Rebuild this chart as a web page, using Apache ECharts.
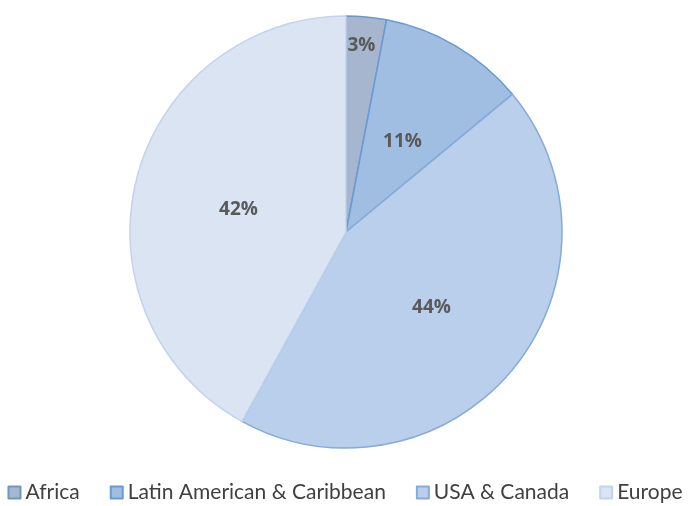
<!DOCTYPE html>
<html>
<head>
<meta charset="utf-8">
<script src="https://cdn.jsdelivr.net/npm/echarts@6/dist/echarts.min.js"></script>
<style>
  html, body { margin: 0; padding: 0; background: #fff; }
  #chart { width: 690px; height: 506px; }
</style>
</head>
<body>
<div id="chart"></div>
<script>
// Share of total by region
const regions = ['Africa', 'Latin American & Caribbean', 'USA & Canada', 'Europe'];
const shares = [3, 11, 44, 42];

const fills = ['#a6b6cf', '#a0bde2', '#b9cfeb', '#dae4f3'];
const edges = ['#6f97c6', '#6a9ad2', '#86abd9', '#c3d3ea'];

const chart = echarts.init(document.getElementById('chart'), null, { renderer: 'canvas' });

chart.setOption({
  animation: false,
  legend: {
    bottom: -2,
    left: 'center',
    itemWidth: 12,
    itemHeight: 12,
    itemGap: 30,
    icon: 'rect',
    textStyle: { fontFamily: 'Lato', fontSize: 21, color: '#404040' },
    data: regions
  },
  series: [{
    type: 'pie',
    center: [346, 232],
    radius: 216,
    startAngle: 90,
    clockwise: true,
    label: {
      show: true,
      position: 'inside',
      formatter: '{d}%',
      fontFamily: 'Open Sans',
      fontWeight: 'bold',
      fontSize: 19,
      color: '#595959'
    },
    labelLine: { show: false },
    labelLayout: function (p) {
      // the thin first slice keeps its label near the rim
      if (p.dataIndex === 0) return { dx: 5, dy: -76 };
      return { dy: 5 };
    },
    emphasis: { disabled: true },
    data: regions.map((name, i) => ({
      name: name,
      value: shares[i],
      itemStyle: { color: fills[i], borderColor: edges[i], borderWidth: 1.5 }
    }))
  }]
});
</script>
</body>
</html>
